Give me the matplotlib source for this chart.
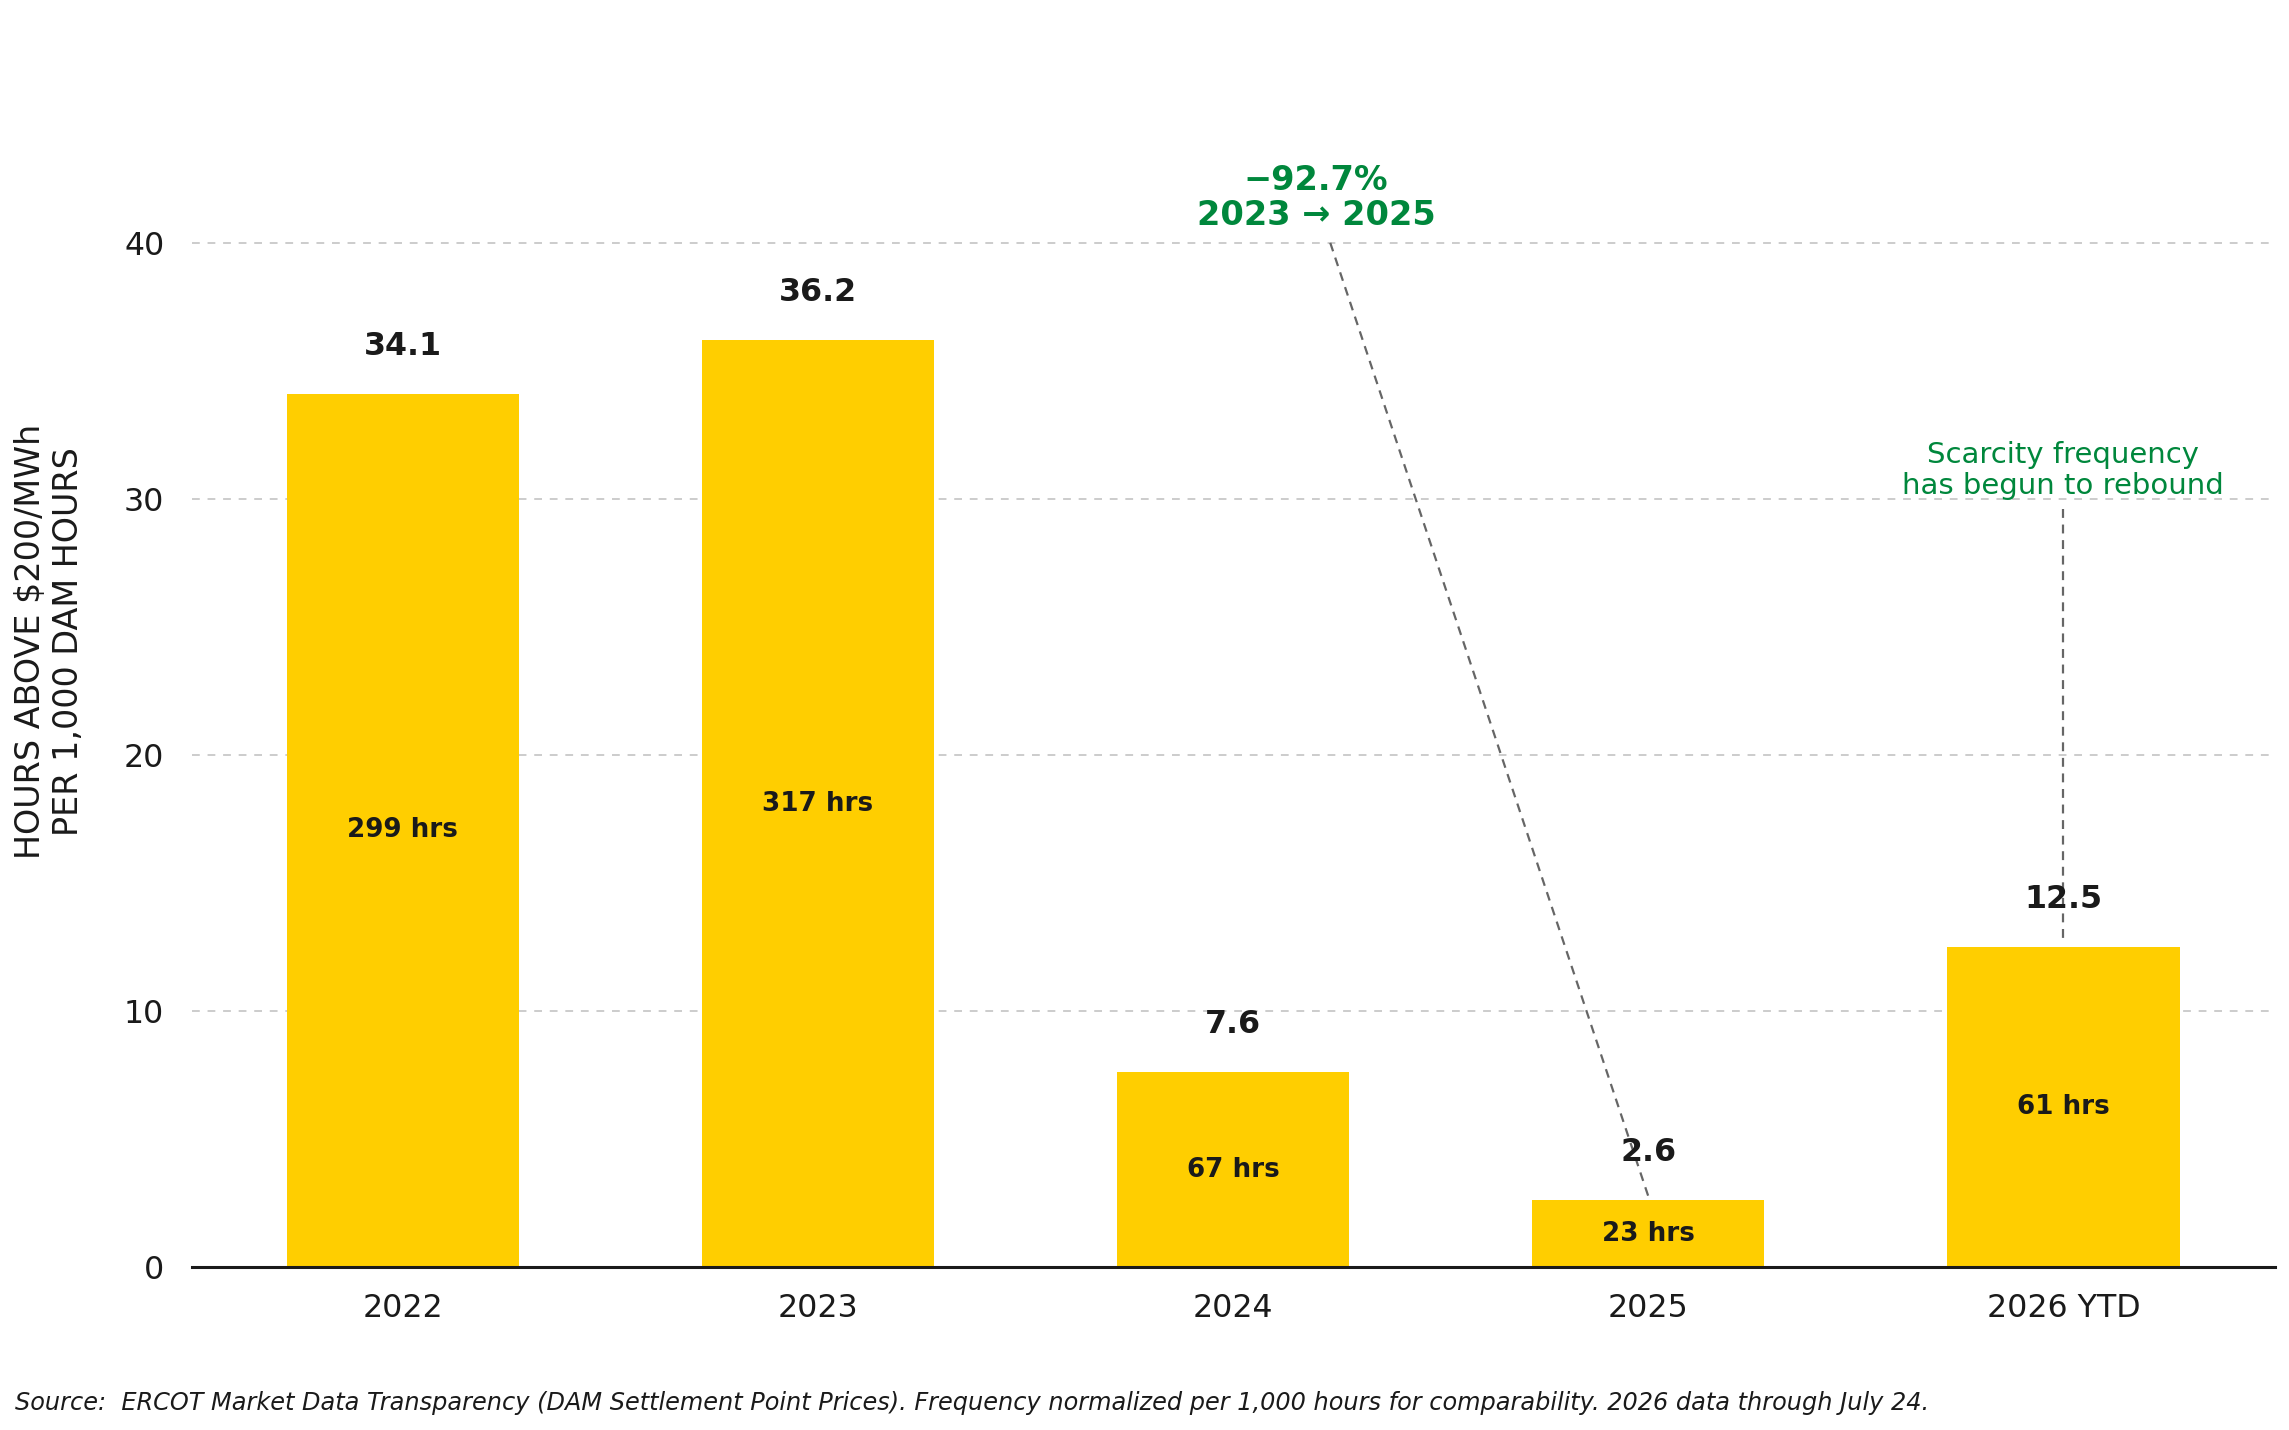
import matplotlib
matplotlib.use("Agg")
import matplotlib.pyplot as plt

# Data
years = ["2022", "2023", "2024", "2025", "2026 YTD"]
per_1000 = [34.1, 36.2, 7.6, 2.6, 12.5]
hours = [299, 317, 67, 23, 61]

YELLOW = "#FFCE00"
GREEN = "#00873C"
DARK = "#1a1a1a"

plt.rcParams["font.family"] = "DejaVu Sans"

fig = plt.figure(figsize=(11.445, 7.15), dpi=200)
ax = fig.add_axes([0.0839, 0.114, 0.910, 0.875])

x = list(range(len(years)))
ax.bar(x, per_1000, width=0.56, color=YELLOW, zorder=2)

# value labels above bars, hour counts inside
for xi, v, h in zip(x, per_1000, hours):
    ax.text(xi, v + 1.87, f"{v:.1f}", ha="center", va="center",
            fontsize=11.4, fontweight="bold", color=DARK, zorder=4)
    ax.text(xi, v / 2, f"{h} hrs", ha="center", va="center",
            fontsize=9.4, fontweight="bold", color=DARK, zorder=4)

ax.set_xlim(-0.508, 4.51)
ax.set_ylim(0, 48.87)
ax.set_xticks(x)
ax.set_xticklabels(years)
ax.set_yticks([0, 10, 20, 30, 40])
ax.tick_params(axis="both", length=0, labelsize=11.4, colors=DARK)
ax.tick_params(axis="x", pad=9.5)
ax.tick_params(axis="y", pad=10)

ax.grid(axis="y", color="#cccccc", linestyle=(0, (4, 4)), linewidth=0.7, zorder=0)
for s in ["top", "right", "left"]:
    ax.spines[s].set_visible(False)
ax.spines["bottom"].set_color(DARK)
ax.spines["bottom"].set_linewidth(1.1)
ax.spines["bottom"].set_zorder(3)

ax.set_ylabel("HOURS ABOVE $200/MWh\nPER 1,000 DAM HOURS", fontsize=12,
              color=DARK, labelpad=14)

# drop annotation 2023 -> 2025
ax.plot([2.234, 3.0], [40.0, per_1000[3] + 0.17], color="#666666",
        linestyle=(0, (4, 3)), linewidth=0.8, zorder=3)
ax.text(2.2, 41.75, "\u221292.7%\n2023 \u2192 2025", ha="center", va="center",
        fontsize=12.1, fontweight="bold", color=GREEN, linespacing=1.1)

# rebound annotation
ax.plot([4, 4], [29.6, per_1000[4] + 0.33], color="#666666",
        linestyle=(0, (4, 3)), linewidth=0.8, zorder=3)
ax.text(4, 31.1, "Scarcity frequency\nhas begun to rebound", ha="center",
        va="center", fontsize=10.5, color=GREEN, linespacing=1.15)

fig.text(0.0066, 0.019, "Source:  ERCOT Market Data Transparency (DAM Settlement Point Prices). "
         "Frequency normalized per 1,000 hours for comparability. 2026 data through July 24.",
         ha="left", va="center", fontsize=8.66, style="italic", color=DARK)

fig.savefig("out.png", dpi=200)
